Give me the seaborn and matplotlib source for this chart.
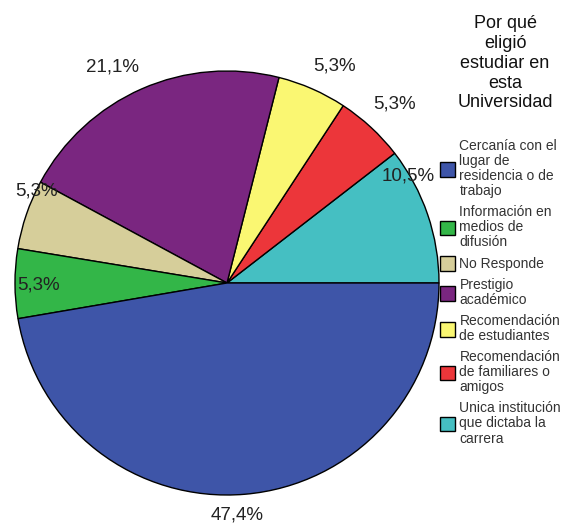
import numpy as np
import matplotlib
matplotlib.use("Agg")
import matplotlib.pyplot as plt
import seaborn as sns

# --- Data (legend order) ---
motivos = [
    "Cercanía con el\nlugar de\nresidencia o de\ntrabajo",
    "Información en\nmedios de\ndifusión",
    "No Responde",
    "Prestigio\nacadémico",
    "Recomendación\nde estudiantes",
    "Recomendación\nde familiares o\namigos",
    "Unica institución\nque dictaba la\ncarrera",
]
porcentajes = [47.4, 5.3, 5.3, 21.1, 5.3, 5.3, 10.5]
titulo_leyenda = "Por qué\neligió\nestudiar en\nesta\nUniversidad"

# --- Style ---
colores = ["#3E55A8", "#33B648", "#D6CE9A", "#7A2680", "#FAF772", "#EC363A", "#45BFC2"]
# label placement tweaks (radius factor, angle shift in degrees)
label_r = [1.095, 0.89, 1.0, 1.154, 1.141, 1.155, 0.99]
label_shift = [-2.4, 0.3, -7.0, 4.3, -2.6, -0.3, 11.7]

sns.set_theme(style="white")
plt.rcParams["font.family"] = ["Liberation Sans", "DejaVu Sans"]

W, H = 577, 526
fig = plt.figure(figsize=(W / 100, H / 100), dpi=100)
R = 212
cx, cy = 227, 283
ax = fig.add_axes([(cx - R) / W, (H - cy - R) / H, 2 * R / W, 2 * R / H])

wedges, _ = ax.pie(
    porcentajes[::-1],
    colors=colores[::-1],
    startangle=0,
    counterclock=True,
    radius=1,
    wedgeprops=dict(edgecolor="black", linewidth=1.0),
)
ax.set_xlim(-1, 1)
ax.set_ylim(-1, 1)
ax.set_aspect("equal")
ax.axis("off")

wedges = wedges[::-1]  # back to legend order
for w, p, r, s in zip(wedges, porcentajes, label_r, label_shift):
    ang = np.deg2rad((w.theta1 + w.theta2) / 2 + s)
    ax.text(r * np.cos(ang), r * np.sin(ang), f"{p:.1f}%".replace(".", ","),
            ha="center", va="center", fontsize=13.5, color="#222222", clip_on=False)

fig.text(505 / W, 1 - 15 / H, titulo_leyenda, ha="center", va="top",
         fontsize=13, color="#111111", linespacing=1.22)

leg = fig.legend(
    handles=wedges,
    labels=motivos,
    loc="upper left",
    bbox_to_anchor=(440 / W, 1 - 139 / H),
    frameon=False,
    handlelength=1.05,
    handleheight=1.2,
    handletextpad=0.35,
    labelspacing=0.5,
    borderpad=0,
    borderaxespad=0,
    labelcolor="#333333",
    prop={"size": 10},
)
for t in leg.get_texts():
    t.set_linespacing(1.1)

fig.savefig("out.png", dpi=100, facecolor="white")
